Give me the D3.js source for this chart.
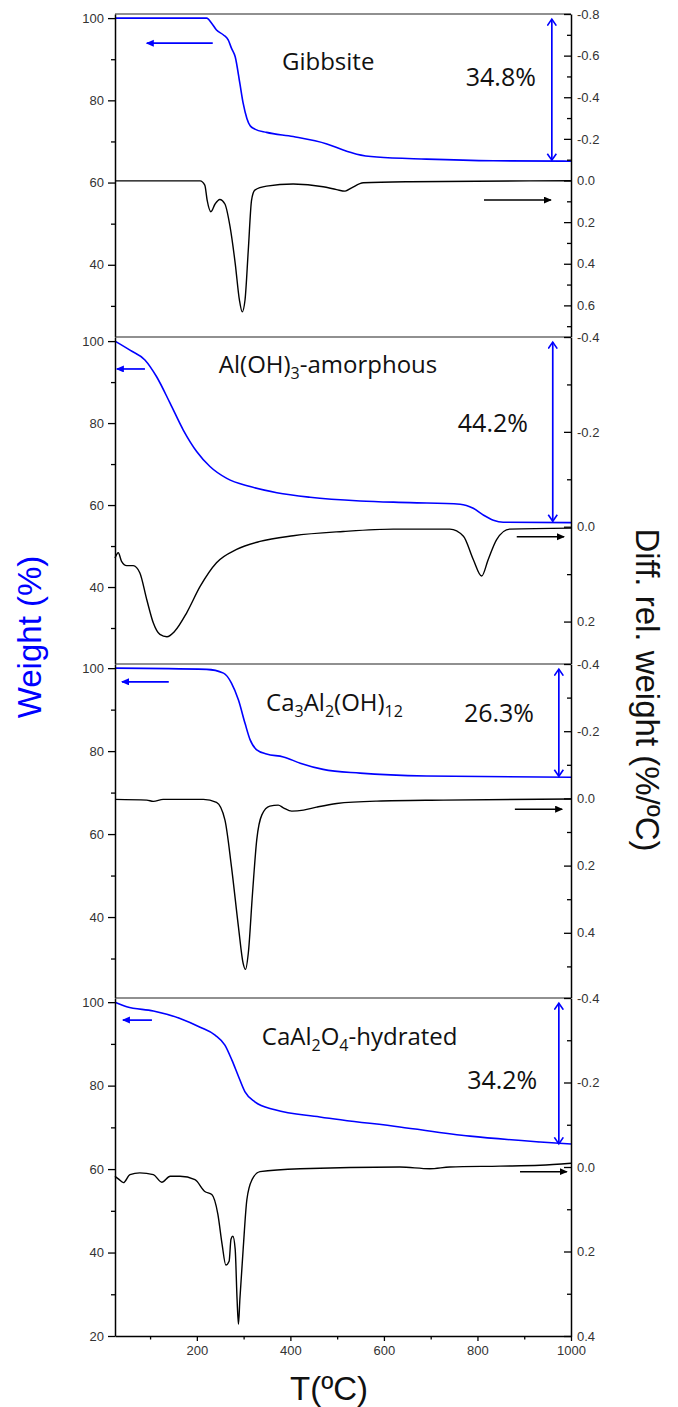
<!DOCTYPE html>
<html>
<head>
<meta charset="UTF-8">
<title>TG / DTG curves</title>
<script src="https://cdn.jsdelivr.net/npm/d3@7"></script>
<style>
    body, html { margin: 0; padding: 0; background: #fff; }
    svg { display: block; }
    .tick text { font-family: "Liberation Sans", Arial, sans-serif; font-size: 13px; fill: #333; }
    .tick line { stroke: #000; stroke-width: 1.3; }
    .domain { stroke: #000; stroke-width: 1.5; }
    .axis-title { font-family: "Liberation Sans", Arial, sans-serif; font-size: 33px; }
    .note { font-family: "Open Sans", sans-serif; fill: #111; }
</style>
</head>
<body>
<svg id="chart" width="678" height="1407"></svg>
<script>
// ---- data ----
var tempTicks = [200, 400, 600, 800, 1000];
var tempMinor = [100, 300, 500, 700, 900];
var weightTicks = [100, 80, 60, 40];
var weightTicksBottom = [100, 80, 60, 40, 20];
var weightMinor = [90, 70, 50, 30];

var diffRange = [[-0.8, 0.8], [-0.4, 0.3], [-0.4, 0.6], [-0.4, 0.4]];
var diffTicks = [
    [-0.8, -0.6, -0.4, -0.2, 0, 0.2, 0.4, 0.6],
    [-0.4, -0.2, 0, 0.2],
    [-0.4, -0.2, 0, 0.2, 0.4],
    [-0.4, -0.2, 0, 0.2, 0.4]
];
var diffMinor = [
    [-0.7, -0.5, -0.3, -0.1, 0.1, 0.3, 0.5, 0.7],
    [-0.3, -0.1, 0.1],
    [-0.3, -0.1, 0.1, 0.3, 0.5],
    [-0.3, -0.1, 0.1, 0.3]
];

// sample names, [text, subscript]
var sampleNames = [
    [["Gibbsite", 0]],
    [["Al(OH)", 0], ["3", 1], ["-amorphous", 0]],
    [["Ca", 0], ["3", 1], ["Al", 0], ["2", 1], ["(OH)", 0], ["12", 1]],
    [["CaAl", 0], ["2", 1], ["O", 0], ["4", 1], ["-hydrated", 0]]
];
var massLoss = [34.8, 44.2, 26.3, 34.2];

// Gibbsite
var gibbsiteTgT = [25, 221, 232, 242, 257, 267, 274, 282, 292, 299, 307, 314, 324, 349, 406, 478, 513, 542, 585, 691, 834, 1000];
var gibbsiteTg = [100, 100, 98.7, 97.1, 95.9, 94.7, 92.7, 90.6, 84.1, 79.3, 75.6, 73.8, 73.0, 72.2, 71.2, 69.4, 67.9, 66.9, 66.2, 65.7, 65.3, 65.2];
var gibbsiteDtgT = [25, 207, 217, 222, 230, 239, 249, 260, 271, 282, 291, 297, 303, 310, 317, 324, 349, 406, 470, 499, 517, 531, 556, 656, 1000];
var gibbsiteDtg = [0.002, 0.002, 0.022, 0.094, 0.150, 0.113, 0.091, 0.113, 0.222, 0.398, 0.574, 0.631, 0.574, 0.334, 0.094, 0.046, 0.027, 0.017, 0.030, 0.044, 0.051, 0.035, 0.011, 0.006, 0.001];

// Al(OH)3 amorphous
var amorphTgT = [25, 57, 89, 114, 143, 171, 200, 228, 264, 314, 371, 442, 549, 656, 763, 791, 812, 834, 855, 1000];
var amorphTg = [100, 97.8, 95.4, 91.3, 84.8, 78.3, 73.0, 69.4, 66.5, 64.5, 63.0, 61.9, 61.0, 60.6, 60.2, 59.2, 57.6, 56.3, 55.8, 55.7];
var amorphDtgT = [25, 32, 39, 50, 64, 78, 93, 107, 121, 136, 153, 178, 207, 242, 285, 335, 406, 513, 620, 741, 770, 791, 809, 823, 841, 869, 1000];
var amorphDtg = [0.066, 0.055, 0.073, 0.082, 0.082, 0.097, 0.154, 0.203, 0.227, 0.232, 0.220, 0.182, 0.126, 0.076, 0.048, 0.031, 0.019, 0.010, 0.005, 0.005, 0.020, 0.069, 0.104, 0.069, 0.027, 0.005, 0.003];

// Ca3Al2(OH)12
var katoTgT = [25, 221, 257, 274, 289, 303, 314, 328, 349, 385, 421, 470, 549, 691, 1000];
var katoTg = [100, 99.7, 98.8, 96.4, 92.3, 86.7, 82.7, 80.3, 79.3, 78.6, 77.1, 75.6, 74.7, 74.0, 73.7];
var katoDtgT = [25, 93, 107, 128, 214, 242, 260, 274, 289, 299, 304, 310, 319, 328, 339, 356, 374, 385, 403, 428, 456, 499, 585, 727, 1000];
var katoDtg = [0.003, 0.005, 0.009, 0.003, 0.003, 0.012, 0.064, 0.203, 0.383, 0.491, 0.509, 0.461, 0.283, 0.124, 0.049, 0.023, 0.020, 0.028, 0.038, 0.035, 0.026, 0.015, 0.008, 0.005, 0.002];

// CaAl2O4 hydrated
var hydTgT = [25, 50, 107, 164, 207, 239, 260, 275, 288, 303, 324, 367, 463, 634, 784, 934, 1000];
var hydTg = [100, 98.9, 97.9, 96.1, 94.0, 92.1, 89.7, 86.1, 82.5, 78.5, 76.1, 74.2, 72.5, 70.1, 67.9, 66.5, 66.0];
var hydDtgT = [25, 32, 43, 57, 78, 107, 125, 143, 164, 196, 217, 232, 245, 254, 262, 269, 273, 277, 282, 286, 289, 292, 299, 307, 318, 335, 421, 634, 698, 741, 848, 934, 1000];
var hydDtg = [0.022, 0.028, 0.037, 0.018, 0.014, 0.018, 0.036, 0.022, 0.022, 0.030, 0.058, 0.065, 0.112, 0.183, 0.232, 0.223, 0.171, 0.164, 0.195, 0.313, 0.372, 0.313, 0.195, 0.077, 0.030, 0.011, 0.004, 0.000, 0.004, 0.000, -0.002, -0.004, -0.009];

var tgT = [gibbsiteTgT, amorphTgT, katoTgT, hydTgT];
var tg = [gibbsiteTg, amorphTg, katoTg, hydTg];
var dtgT = [gibbsiteDtgT, amorphDtgT, katoDtgT, hydDtgT];
var dtg = [gibbsiteDtg, amorphDtg, katoDtg, hydDtg];

// annotations in data units
var namePos = [[382, 87.3], [247, 92.1], [348, 89.7], [339, 89.7]];   // [T, weight]
var lossPos = [[775, 83.5], [758, 77.8], [771, 87.0], [778, 79.2]];   // [T, weight]
var lossArrowT = [959, 961, 974, 974];
var blueArrow = [[234, 93, 93.9], [89, 29, 93.2], [140, 40, 96.7], [104, 42, 95.7]];   // [from T, to T, weight]
var blackArrow = [[814, 957, 0.094], [884, 985, 0.021], [880, 981, 0.032], [891, 991, 0.011]]; // [from T, to T, diff]

// ---- layout ----
var panelTop = [14, 337, 664, 998];
var panelBottom = [347, 669, 1000, 1336];
var blue = "#0000ff";

var svg = d3.select("#chart");
var x = d3.scaleLinear().domain([25, 1000]).range([115, 571]);

var defs = svg.append("defs");
function arrowHead(id, color) {
    defs.append("marker").attr("id", id)
        .attr("markerUnits", "userSpaceOnUse")
        .attr("markerWidth", 9).attr("markerHeight", 9)
        .attr("refX", 7).attr("refY", 3.5).attr("orient", "auto")
        .append("path").attr("d", "M0,0 L8,3.5 L0,7 Z").attr("fill", color);
}
arrowHead("headBlue", blue);
arrowHead("headBlack", "#000");
defs.append("marker").attr("id", "chevron")
    .attr("markerUnits", "userSpaceOnUse")
    .attr("markerWidth", 12).attr("markerHeight", 12)
    .attr("refX", 7).attr("refY", 5).attr("orient", "auto-start-reverse")
    .append("path").attr("d", "M0.5,0.5 L7,5 L0.5,9.5").attr("fill", "none")
    .attr("stroke", blue).attr("stroke-width", 1.6);

function drawPanel(i) {
    var top = panelTop[i], bottom = panelBottom[i];
    var yW = d3.scaleLinear().domain([20, 101]).range([bottom, top]);
    var yD = d3.scaleLinear().domain(diffRange[i]).range([top, bottom]);
    var g = svg.append("g");

    // covers the part of the panel above that runs below this one
    g.append("rect").attr("x", 55).attr("y", top).attr("width", 570)
        .attr("height", bottom - top).attr("fill", "#fff");

    var lineW = d3.line().x(d => x(d[0])).y(d => yW(d[1])).curve(d3.curveMonotoneX);
    var lineD = d3.line().x(d => x(d[0])).y(d => yD(d[1])).curve(d3.curveMonotoneX);

    g.append("path").datum(d3.zip(dtgT[i], dtg[i]))
        .attr("d", lineD).attr("fill", "none").attr("stroke", "#000").attr("stroke-width", 1.4);
    g.append("path").datum(d3.zip(tgT[i], tg[i]))
        .attr("d", lineW).attr("fill", "none").attr("stroke", blue).attr("stroke-width", 1.6);

    // top frame
    g.append("line").attr("x1", x(25)).attr("x2", x(1000))
        .attr("y1", top).attr("y2", top).attr("stroke", "#222").attr("stroke-width", 1.2);

    // left axis
    g.append("g").attr("transform", "translate(" + x(25) + ",0)")
        .call(d3.axisLeft(yW).tickValues(i === 3 ? weightTicksBottom : weightTicks)
            .tickSize(7).tickSizeOuter(0).tickPadding(4).tickFormat(d3.format("d")));
    g.append("g").attr("transform", "translate(" + x(25) + ",0)")
        .call(d3.axisLeft(yW).tickValues(weightMinor).tickSize(4).tickFormat(""))
        .select(".domain").remove();

    // right axis, ticks inward
    g.append("g").attr("transform", "translate(" + x(1000) + ",0)")
        .call(d3.axisRight(yD).tickValues(diffTicks[i]).tickSize(-7).tickSizeOuter(0)
            .tickPadding(6).tickFormat(d => d.toFixed(1)));
    g.append("g").attr("transform", "translate(" + x(1000) + ",0)")
        .call(d3.axisRight(yD).tickValues(diffMinor[i]).tickSize(-4).tickFormat(""))
        .select(".domain").remove();

    // sample name
    var t = g.append("text").attr("class", "note")
        .attr("x", x(namePos[i][0])).attr("y", yW(namePos[i][1]))
        .attr("font-size", 24);
    var shift = 0;
    sampleNames[i].forEach(function (p) {
        var dy = p[1] ? 6 - shift : -shift;
        shift = p[1] ? 6 : 0;
        t.append("tspan").text(p[0]).attr("dy", dy).attr("font-size", p[1] ? 16 : 24);
    });

    // mass loss label + double arrow
    g.append("text").attr("class", "note").attr("font-size", 25)
        .attr("x", x(lossPos[i][0])).attr("y", yW(lossPos[i][1]))
        .text(massLoss[i].toFixed(1) + "%");
    g.append("line")
        .attr("x1", x(lossArrowT[i])).attr("x2", x(lossArrowT[i]))
        .attr("y1", yW(100) + 1).attr("y2", yW(100 - massLoss[i]) - 1)
        .attr("stroke", blue).attr("stroke-width", 1.7)
        .attr("marker-start", "url(#chevron)").attr("marker-end", "url(#chevron)");

    // axis direction arrows
    g.append("line")
        .attr("x1", x(blueArrow[i][0])).attr("x2", x(blueArrow[i][1]))
        .attr("y1", yW(blueArrow[i][2])).attr("y2", yW(blueArrow[i][2]))
        .attr("stroke", blue).attr("stroke-width", 1.7).attr("marker-end", "url(#headBlue)");
    g.append("line")
        .attr("x1", x(blackArrow[i][0])).attr("x2", x(blackArrow[i][1]))
        .attr("y1", yD(blackArrow[i][2])).attr("y2", yD(blackArrow[i][2]))
        .attr("stroke", "#000").attr("stroke-width", 1.5).attr("marker-end", "url(#headBlack)");

    if (i === 3) {
        g.append("g").attr("transform", "translate(0," + bottom + ")")
            .call(d3.axisBottom(x).tickValues(tempTicks).tickSize(5).tickSizeOuter(0)
                .tickPadding(5).tickFormat(d3.format("d")));
        g.append("g").attr("transform", "translate(0," + bottom + ")")
            .call(d3.axisBottom(x).tickValues(tempMinor).tickSize(3.5).tickFormat(""))
            .select(".domain").remove();
    }
}

for (var i = 0; i < 4; i++) drawPanel(i);

// axis titles
svg.append("text").attr("class", "axis-title")
    .attr("transform", "translate(41,637) rotate(-90)")
    .attr("text-anchor", "middle").attr("fill", blue)
    .text("Weight (%)");
svg.append("text").attr("class", "axis-title")
    .attr("transform", "translate(636,690) rotate(90)")
    .attr("text-anchor", "middle").attr("fill", "#111")
    .text("Diff. rel. weight (%/ºC)");
svg.append("text").attr("class", "axis-title")
    .attr("x", 329).attr("y", 1400)
    .attr("text-anchor", "middle").attr("fill", "#111")
    .text("T(ºC)");
</script>
</body>
</html>
